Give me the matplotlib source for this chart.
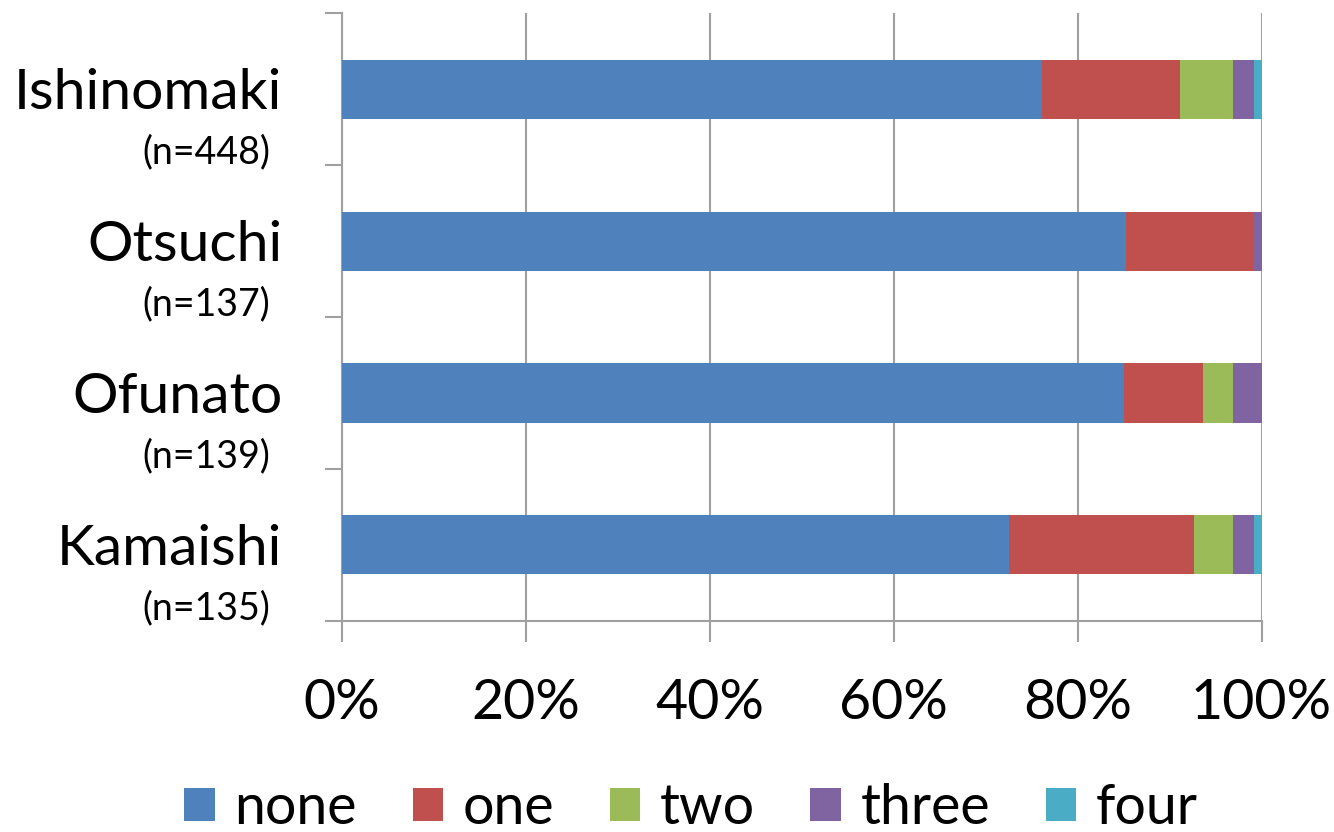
import matplotlib
matplotlib.use('Agg')
import matplotlib.pyplot as plt
import matplotlib.transforms as mtransforms
import numpy as np

# Data (percent of respondents per town)
towns = ['Ishinomaki', 'Otsuchi', 'Ofunato', 'Kamaishi']
n_labels = ['(n=448)', '(n=137)', '(n=139)', '(n=135)']
series = ['none', 'one', 'two', 'three', 'four']
none_vals = [76.1, 85.3, 85.0, 72.5]
one_vals = [15.0, 13.9, 8.6, 20.1]
two_vals = [5.8, 0.0, 3.3, 4.3]
three_vals = [2.3, 0.8, 3.1, 2.3]
four_vals = [0.8, 0.0, 0.0, 0.8]
colors = ['#4F81BD', '#C0504D', '#9BBB59', '#8064A2', '#4BACC6']
xticks = [0, 20, 40, 60, 80, 100]

plt.rcParams['font.family'] = ['Lato', 'DejaVu Sans']
grid_col = '#a0a0a0'

fig = plt.figure(figsize=(13.34, 8.32), dpi=100)
ax = fig.add_axes([0.2564, 0.254, 0.6893, 0.7298])

ypos = np.arange(len(towns))[::-1]
left = np.zeros(len(towns))
for name, vals, c in zip(series, [none_vals, one_vals, two_vals, three_vals, four_vals], colors):
    ax.barh(ypos, vals, left=left, height=0.39, color=c, label=name, zorder=3)
    left += np.array(vals)

ax.set_xlim(0, 100)
ax.set_ylim(-0.5, len(towns) - 0.5)
ax.set_xticks(xticks)
ax.set_xticklabels([f'{t}%' for t in xticks], fontsize=40)
ax.set_yticks(np.arange(-0.5, len(towns), 1.0))
ax.set_yticklabels([])
ax.tick_params(axis='x', direction='out', length=15, width=1.5, color=grid_col, pad=26)
ax.tick_params(axis='y', direction='out', length=12, width=1.5, color=grid_col)
ax.xaxis.grid(True, color=grid_col, lw=1.5, zorder=0)
for s in ['top', 'right']:
    ax.spines[s].set_visible(False)
for s in ['left', 'bottom']:
    ax.spines[s].set_color(grid_col)
    ax.spines[s].set_linewidth(1.5)

# town names and sample sizes
trans = mtransforms.blended_transform_factory(ax.transAxes, ax.transData)
for y, t, n in zip(ypos, towns, n_labels):
    ax.text(-0.065, y - 0.13, t, transform=trans, ha='right', va='baseline', fontsize=41)
    ax.text(-0.078, y - 0.49, n, transform=trans, ha='right', va='baseline', fontsize=27)

fig.legend(loc='center', bbox_to_anchor=(0.518, 0.028), ncol=5, frameon=False,
           fontsize=40, handlelength=0.55, handleheight=0.55, handletextpad=0.35,
           columnspacing=1.0)

fig.savefig('out.png', dpi=100)
